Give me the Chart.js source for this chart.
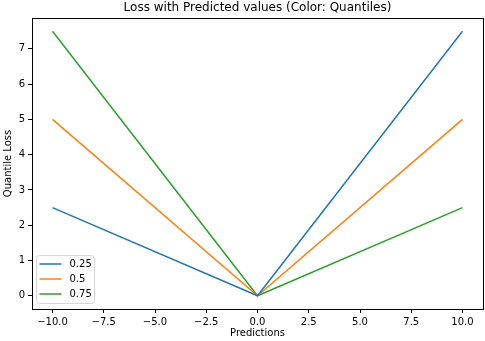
<!DOCTYPE html>
<html>
<head>
<meta charset="utf-8">
<script src="https://cdn.jsdelivr.net/npm/chart.js@4"></script>
<style>
  html, body { margin: 0; padding: 0; background: #fff; }
  canvas { display: block; }
</style>
</head>
<body>
<canvas id="lossChart" width="485" height="341"></canvas>
<script>
// data
var predictions = [-10, 0, 10];
var quantiles = ['0.25', '0.5', '0.75'];
var loss_q25 = [2.5, 0, 7.5];
var loss_q50 = [5, 0, 5];
var loss_q75 = [7.5, 0, 2.5];
var xTicks = [-10, -7.5, -5, -2.5, 0, 2.5, 5, 7.5, 10];
var yTicks = [0, 1, 2, 3, 4, 5, 6, 7];

var colors = ['#1f77b4', '#ff7f0e', '#2ca02c'];
var FONT = '"DejaVu Sans", sans-serif';

function toPoints(ys) {
    return predictions.map(function (x, i) { return {x: x, y: ys[i]}; });
}

var series = [loss_q25, loss_q50, loss_q75];
var datasets = series.map(function (ys, i) {
    return {
        label: quantiles[i],
        data: toPoints(ys),
        borderColor: colors[i],
        backgroundColor: colors[i],
        borderWidth: 1.5,
        pointRadius: 0,
        tension: 0,
        fill: false
    };
});

// frame, titles and the inside legend, matplotlib style
var decorations = {
    id: 'decorations',
    afterDraw: function (chart) {
        var ctx = chart.ctx;
        var a = chart.chartArea;
        ctx.save();
        ctx.strokeStyle = '#000';
        ctx.lineWidth = 1;
        ctx.strokeRect(Math.round(a.left) + 0.5, Math.round(a.top) + 0.5,
            Math.round(a.right - a.left), Math.round(a.bottom - a.top));

        ctx.fillStyle = '#000';
        ctx.textAlign = 'center';
        ctx.textBaseline = 'middle';
        ctx.font = '12px ' + FONT;
        ctx.fillText('Loss with Predicted values (Color: Quantiles)', (a.left + a.right) / 2, 8);
        ctx.font = '10px ' + FONT;
        ctx.fillText('Predictions', (a.left + a.right) / 2, 333);
        ctx.save();
        ctx.translate(8, (a.top + a.bottom) / 2);
        ctx.rotate(-Math.PI / 2);
        ctx.fillText('Quantile Loss', 0, 0);
        ctx.restore();

        // legend box
        var lx = a.left + 4.5, ly = a.bottom - 53.5, lw = 58, lh = 48, r = 3;
        ctx.beginPath();
        ctx.moveTo(lx + r, ly);
        ctx.arcTo(lx + lw, ly, lx + lw, ly + lh, r);
        ctx.arcTo(lx + lw, ly + lh, lx, ly + lh, r);
        ctx.arcTo(lx, ly + lh, lx, ly, r);
        ctx.arcTo(lx, ly, lx + lw, ly, r);
        ctx.closePath();
        ctx.fillStyle = 'rgba(255,255,255,0.8)';
        ctx.fill();
        ctx.strokeStyle = '#d6d6d6';
        ctx.stroke();
        ctx.textAlign = 'left';
        for (var i = 0; i < quantiles.length; i++) {
            var yy = ly + 8.5 + i * 15;
            ctx.beginPath();
            ctx.moveTo(lx + 3, yy);
            ctx.lineTo(lx + 25, yy);
            ctx.strokeStyle = colors[i];
            ctx.lineWidth = 1.5;
            ctx.stroke();
            ctx.fillStyle = '#000';
            ctx.fillText(quantiles[i], lx + 33, yy);
        }
        ctx.restore();
    }
};

var chart = new Chart(document.getElementById('lossChart'), {
    type: 'line',
    data: { datasets: datasets },
    plugins: [decorations],
    options: {
        responsive: false,
        animation: false,
        layout: { padding: { top: 18, right: 2, left: 0, bottom: 0 } },
        plugins: {
            legend: { display: false },
            title: { display: false },
            tooltip: { enabled: false }
        },
        scales: {
            x: {
                type: 'linear',
                min: -11,
                max: 11,
                afterBuildTicks: function (scale) {
                    scale.ticks = xTicks.map(function (v) { return {value: v}; });
                },
                afterFit: function (scale) { scale.height = 32; },
                ticks: {
                    color: '#000',
                    font: { family: FONT, size: 10 },
                    padding: 3,
                    maxRotation: 0,
                    autoSkip: false,
                    callback: function (v) { return v.toFixed(1).replace('-', '\u2212'); }
                },
                grid: { drawOnChartArea: false, drawTicks: true, tickLength: 4, color: '#000' },
                border: { display: true, color: '#000' }
            },
            y: {
                type: 'linear',
                min: -0.375,
                max: 7.875,
                afterBuildTicks: function (scale) {
                    scale.ticks = yTicks.map(function (v) { return {value: v}; });
                },
                afterFit: function (scale) { scale.width = 32; },
                ticks: {
                    color: '#000',
                    font: { family: FONT, size: 10 },
                    padding: 3,
                    autoSkip: false,
                    callback: function (v) { return String(v); }
                },
                grid: { drawOnChartArea: false, drawTicks: true, tickLength: 4, color: '#000' },
                border: { display: true, color: '#000' }
            }
        }
    }
});
</script>
</body>
</html>
